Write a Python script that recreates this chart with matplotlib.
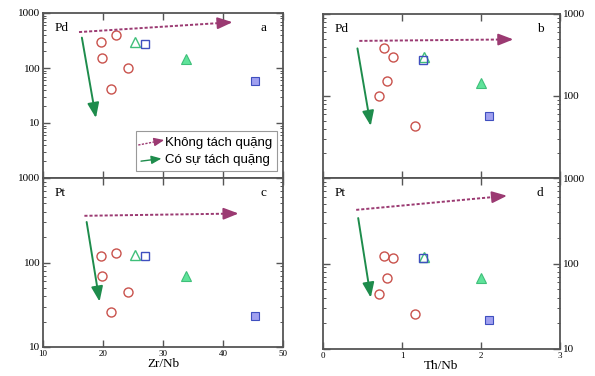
import numpy as np
import matplotlib
matplotlib.use('Agg')
import matplotlib.pyplot as plt
from matplotlib.patches import Rectangle
from matplotlib.ticker import LogLocator, NullFormatter, FixedLocator

plt.rcParams['font.family'] = ['Liberation Serif', 'DejaVu Serif']

# Zr/Nb and Th/Nb ratios
circ_zr = [19.7, 22.1, 19.9, 24.2, 21.3]
circ_th = [0.77, 0.89, 0.81, 0.71, 1.16]
circ_pd_zr = [300, 390, 150, 98, 42]
circ_pd_th = [387, 303, 152, 100, 43]
circ_pt_zr = [118, 128, 69, 45, 26]
circ_pt_th = [124, 116, 68, 44, 26]

otri_zr, otri_th = 25.4, 1.28
osq_zr, osq_th = 27.0, 1.27
ftri_zr, ftri_th = 33.9, 2.0
fsq_zr, fsq_th = 45.3, 2.1

otri_pd, osq_pd, ftri_pd, fsq_pd = 300, 275, 144, 57
otri_pd_b, osq_pd_b, ftri_pd_b, fsq_pd_b = 300, 277, 146, 57
otri_pt, osq_pt, ftri_pt, fsq_pt = 123, 118, 69, 23
otri_pt_d, osq_pt_d, ftri_pt_d, fsq_pt_d = 118, 117, 68, 22

# trend arrows: (x0, y0, x1, y1)
arr_nosep = {'a': (16.0, 450, 41.6, 680), 'b': (0.46, 470, 2.41, 490),
             'c': (16.9, 357, 42.6, 380), 'd': (0.42, 424, 2.33, 620)}
arr_sep = {'a': (16.4, 400, 18.9, 11), 'b': (0.43, 411, 0.61, 40),
           'c': (17.2, 325, 19.5, 32), 'd': (0.44, 366, 0.61, 37)}

C_CIRC = '#c9524c'
C_TRI = '#3fbf7a'
C_TRI_F = '#5fe39a'
C_SQ = '#3f4fbf'
C_SQ_F = '#a0a0f0'
C_PUR = '#9b3a72'
C_GRN = '#1e8c4c'
SPINE = '#555555'

fig = plt.figure(figsize=(5.95, 3.76), dpi=100)
W, H = 595, 376

def px_axes(l, r, t, b):
    return fig.add_axes([l / W, 1 - b / H, (r - l) / W, (b - t) / H])

ax_a = px_axes(43, 283, 13, 178)
ax_c = px_axes(43, 283, 178, 347)
ax_b = px_axes(323, 560, 14, 178)
ax_d = px_axes(323, 560, 178, 349)


def dotted_arrow(ax, x0, y0, x1, y1, col, lw=1.4, hl=0.9, hw=0.35, coords='data'):
    # dotted shaft + solid head
    tr = ax.transData if coords == 'data' else ax.transAxes
    p0 = tr.transform((x0, y0))
    p1 = tr.transform((x1, y1))
    d = p1 - p0
    d = d / np.hypot(*d)
    back = 9 * hl
    pb = tr.inverted().transform(p1 - d * back)
    ax.plot([x0, pb[0]], [y0, pb[1]], color=col, lw=lw, ls=(0, (1.6, 1.0)),
             transform=tr, zorder=6, solid_capstyle='butt', dash_capstyle='butt')
    ax.annotate('', xy=(x1, y1), xytext=(pb[0], pb[1]), xycoords=tr, textcoords=tr,
                arrowprops=dict(arrowstyle=f'-|>,head_length={hl},head_width={hw}',
                                color=col, lw=lw, shrinkA=0, shrinkB=0), zorder=6)


def draw(ax, xs_c, ys_c, xo, yo, xs, ys, xft, yft, xfs, yfs, key):
    ax.plot(xs_c, ys_c, 'o', ms=6.5, mfc='none', mec=C_CIRC, mew=1.0)
    ax.plot([xo], [yo], '^', ms=6.5, mfc='none', mec=C_TRI, mew=1.0)
    ax.plot([xs], [ys], 's', ms=6, mfc='none', mec=C_SQ, mew=1.0)
    ax.plot([xft], [yft], '^', ms=6.5, mfc=C_TRI_F, mec=C_TRI, mew=0.8)
    ax.plot([xfs], [yfs], 's', ms=6, mfc=C_SQ_F, mec=C_SQ, mew=0.8)
    x0, y0, x1, y1 = arr_nosep[key]
    dotted_arrow(ax, x0, y0, x1, y1, C_PUR)
    x0, y0, x1, y1 = arr_sep[key]
    ax.annotate('', xy=(x1, y1), xytext=(x0, y0),
                arrowprops=dict(arrowstyle='-|>,head_length=0.9,head_width=0.35',
                                color=C_GRN, lw=1.4))
    for s in ax.spines.values():
        s.set_color(SPINE)
        s.set_linewidth(1.3)
    ax.tick_params(which='both', direction='in', top=True, right=True,
                   color=SPINE, labelsize=7, pad=2)
    ax.tick_params(which='major', length=5, width=1)
    ax.tick_params(which='minor', length=2.5, width=0.7)
    ax.yaxis.set_minor_locator(LogLocator(base=10, subs=np.arange(2, 10)))
    ax.yaxis.set_minor_formatter(NullFormatter())


for ax in (ax_a, ax_b, ax_c, ax_d):
    ax.set_yscale('log')
for ax in (ax_a, ax_c):
    ax.set_xlim(10, 50)
    ax.set_xticks([10, 20, 30, 40, 50])
for ax in (ax_b, ax_d):
    ax.set_xlim(0, 3)
    ax.set_xticks([0, 1, 2, 3])
ax_a.set_ylim(1, 1000)
ax_c.set_ylim(10, 1000)
ax_b.set_ylim(10, 1000)
ax_d.set_ylim(10, 1000)

draw(ax_a, circ_zr, circ_pd_zr, otri_zr, otri_pd, osq_zr, osq_pd,
     ftri_zr, ftri_pd, fsq_zr, fsq_pd, 'a')
draw(ax_c, circ_zr, circ_pt_zr, otri_zr, otri_pt, osq_zr, osq_pt,
     ftri_zr, ftri_pt, fsq_zr, fsq_pt, 'c')
draw(ax_b, circ_th, circ_pd_th, otri_th, otri_pd_b, osq_th, osq_pd_b,
     ftri_th, ftri_pd_b, fsq_th, fsq_pd_b, 'b')
draw(ax_d, circ_th, circ_pt_th, otri_th, otri_pt_d, osq_th, osq_pt_d,
     ftri_th, ftri_pt_d, fsq_th, fsq_pt_d, 'd')

for ax in (ax_a, ax_c):
    ax.set_xlim(10, 50)
for ax in (ax_b, ax_d):
    ax.set_xlim(0, 3)
ax_a.set_ylim(1, 1000)
ax_c.set_ylim(10, 1000)
ax_b.set_ylim(10, 1000)
ax_d.set_ylim(10, 1000)

ax_a.yaxis.set_major_locator(FixedLocator([1, 10, 100, 1000]))
ax_a.set_yticklabels(['', '10', '100', '1000'])
ax_c.set_yticks([10, 100, 1000])
ax_c.set_yticklabels(['10', '100', '1000'])
ax_b.set_yticks([10, 100, 1000])
ax_b.set_yticklabels(['', '100', '1000'])
ax_d.set_yticks([10, 100, 1000])
ax_d.set_yticklabels(['10', '100', '1000'])
for ax in (ax_b, ax_d):
    ax.tick_params(axis='y', labelleft=False, labelright=True, labelsize=8)
for ax in (ax_a, ax_c):
    ax.tick_params(axis='y', labelsize=8)

ax_a.tick_params(axis='x', labelbottom=False)
ax_b.tick_params(axis='x', labelbottom=False)
ax_c.tick_params(axis='x', labelsize=6.5)
ax_d.tick_params(axis='x', labelsize=6.5)

ax_c.set_xlabel('Zr/Nb', fontsize=9.5, labelpad=0)
ax_d.set_xlabel('Th/Nb', fontsize=9.5, labelpad=0)

for ax, el, lab in ((ax_a, 'Pd', 'a'), (ax_b, 'Pd', 'b'), (ax_c, 'Pt', 'c'), (ax_d, 'Pt', 'd')):
    ax.text(0.05, 0.91, el, transform=ax.transAxes, fontsize=9.5, va='center')
    ax.text(0.93, 0.91, lab, transform=ax.transAxes, fontsize=9.5, va='center', ha='right')

# legend box in panel a
ax_a.add_patch(Rectangle((0.388, 0.042), 0.587, 0.243, transform=ax_a.transAxes,
                         facecolor='white', edgecolor='#999999', lw=0.8, zorder=5))
dotted_arrow(ax_a, 0.397, 0.20, 0.505, 0.23, C_PUR, lw=1.0, hl=0.6, hw=0.25, coords='axes')
ax_a.annotate('', xy=(0.505, 0.12), xytext=(0.397, 0.10),
              xycoords='axes fraction', textcoords='axes fraction',
              arrowprops=dict(arrowstyle='-|>,head_length=0.6,head_width=0.25',
                              color=C_GRN, lw=1.0), zorder=6)
for txt, yy in (('Không tách quặng', 0.215), ('Có sự tách quặng', 0.11)):
    ax_a.text(0.51, yy, txt, transform=ax_a.transAxes, fontsize=9.5,
              family=['Liberation Sans', 'DejaVu Sans'], va='center', zorder=6)

fig.savefig('out.png', dpi=100)
